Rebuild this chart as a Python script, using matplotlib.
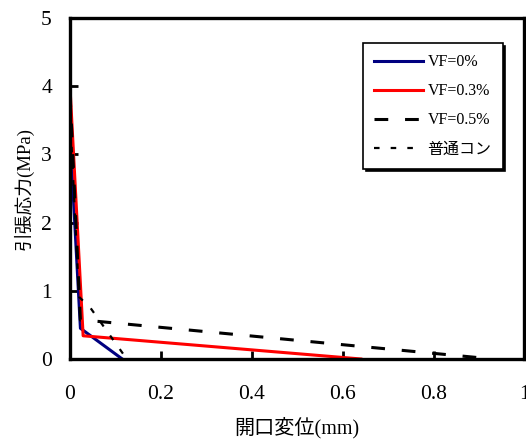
import matplotlib
matplotlib.use('Agg')
import matplotlib.pyplot as plt

# 引張軟化曲線 (開口変位 mm, 引張応力 MPa)
x_vf0 = [0.0, 0.023, 0.115]
y_vf0 = [3.3, 0.45, 0.0]
x_vf03 = [0.0, 0.029, 0.64]
y_vf03 = [4.0, 0.34, 0.0]
x_vf05 = [0.0, 0.023, 0.064, 0.93]
y_vf05 = [3.9, 0.57, 0.55, 0.0]
x_plain = [0.0, 0.02, 0.045, 0.125]
y_plain = [3.6, 0.91, 0.75, 0.0]

labels = ['VF=0%', 'VF=0.3%', 'VF=0.5%', '普通コン']

serif = ['Liberation Serif', 'DejaVu Serif']
mixed = ['Liberation Serif', 'Noto Sans CJK JP']

fig = plt.figure(figsize=(5.26, 4.41), dpi=100)
ax = fig.add_axes([0.133, 0.186, 0.864, 0.773])

ax.plot(x_vf0, y_vf0, color='#000080', lw=2.2, label=labels[0])
ax.plot(x_vf03, y_vf03, color='#ff0000', lw=2.2, label=labels[1])
ax.plot(x_vf05, y_vf05, color='black', lw=2.2, dashes=(4.5, 5.5), label=labels[2])
ax.plot(x_plain, y_plain, color='black', lw=1.6, dashes=(2.5, 5.0), label=labels[3])

ax.set_xlim(0, 1)
ax.set_ylim(0, 5)
ax.set_xticks([0, 0.2, 0.4, 0.6, 0.8, 1])
ax.set_xticklabels(['0', '0.2', '0.4', '0.6', '0.8', '1'])
ax.set_yticks([0, 1, 2, 3, 4, 5])
ax.tick_params(direction='in', length=6, width=2, labelsize=15.5)
ax.tick_params(axis='x', pad=19)
ax.tick_params(axis='y', pad=13)
for lab in ax.get_xticklabels() + ax.get_yticklabels():
    lab.set_family(serif)
for s in ax.spines.values():
    s.set_linewidth(2.4)

ax.set_xlabel('開口変位(mm)', family=mixed, fontsize=14.5, labelpad=9)
ax.set_ylabel('引張応力(MPa)', family=mixed, fontsize=13.5, labelpad=5)

leg = ax.legend(loc='upper right', bbox_to_anchor=(0.952, 0.927), borderaxespad=0,
                prop={'family': mixed, 'size': 11.5},
                frameon=True, fancybox=False, shadow={'color': 'black', 'alpha': 1},
                handlelength=3.05, labelspacing=0.82, borderpad=0.7, handletextpad=0.3)
leg.get_frame().set_edgecolor('black')
leg.get_frame().set_linewidth(1.2)

fig.savefig('out.png', dpi=100)
